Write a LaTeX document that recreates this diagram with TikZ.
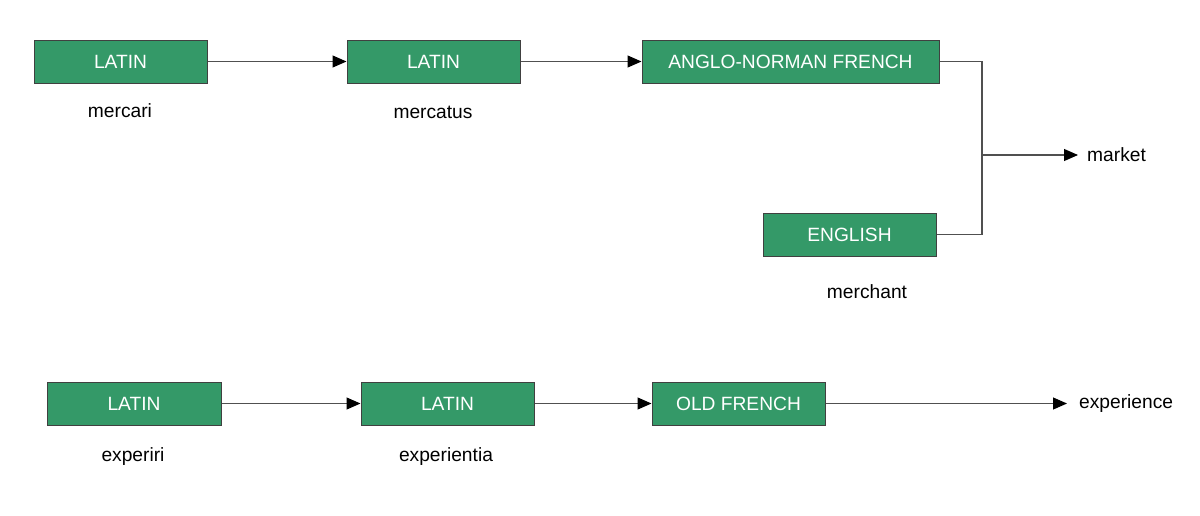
\documentclass[tikz,border=0pt]{standalone}
\usepackage{fontspec}
\setmainfont{Liberation Sans}
\usetikzlibrary{arrows.meta}
\definecolor{boxgreen}{RGB}{52,153,104}
\definecolor{boxedge}{RGB}{64,64,64}
\definecolor{linegray}{RGB}{80,80,80}
\begin{document}
\begin{tikzpicture}[x=1pt,y=-1pt,
  langbox/.style={draw=boxedge,line width=1pt,fill=boxgreen,text=white,minimum height=43pt,inner sep=0pt,font=\fontsize{19.2}{21}\selectfont},
  word/.style={inner sep=0pt,font=\fontsize{19.2}{21}\selectfont,text=black},
  conn/.style={draw=linegray,line width=1.1pt,-{Triangle[length=14pt,width=12pt,fill=black,color=black]}},
  plain/.style={draw=linegray,line width=1.1pt}]
\useasboundingbox (0,0) rectangle (1200,515);
% top row
\node[langbox,minimum width=173pt] (l1) at (120.5,61.5) {LATIN};
\node[langbox,minimum width=173pt] (l2) at (433.5,61.5) {LATIN};
\node[langbox,minimum width=297pt] (an) at (790.5,61.5) {ANGLO-NORMAN FRENCH};
\node[langbox,minimum width=173pt] (en) at (849.5,234.5) {ENGLISH};
\node[word] (w1) at (120,111) {mercari};
\node[word] (w2) at (433,112) {mercatus};
\node[word] (w3) at (867,292) {merchant};
\coordinate (j) at (982,155);
\node[word,anchor=west,inner xsep=9pt] (market) at (1078,155) {market};
\draw[conn] (l1.east) -- (l2.west);
\draw[conn] (l2.east) -- (an.west);
\draw[plain] (an.east) -| (j);
\draw[plain] (en.east) -| (j);
\draw[conn] (j) -- (market.west);
% bottom row
\node[langbox,minimum width=174pt] (b1) at (134,403.5) {LATIN};
\node[langbox,minimum width=173pt] (b2) at (447.5,403.5) {LATIN};
\node[langbox,minimum width=173pt] (of) at (738.5,403.5) {OLD FRENCH};
\node[word] (w4) at (133,457) {experiri};
\node[word] (w5) at (446,457) {experientia};
\node[word,anchor=west,inner xsep=12pt] (exp) at (1067,403.5) {experience};
\draw[conn] (b1.east) -- (b2.west);
\draw[conn] (b2.east) -- (of.west);
\draw[conn] (of.east) -- (exp.west);
\end{tikzpicture}
\end{document}
